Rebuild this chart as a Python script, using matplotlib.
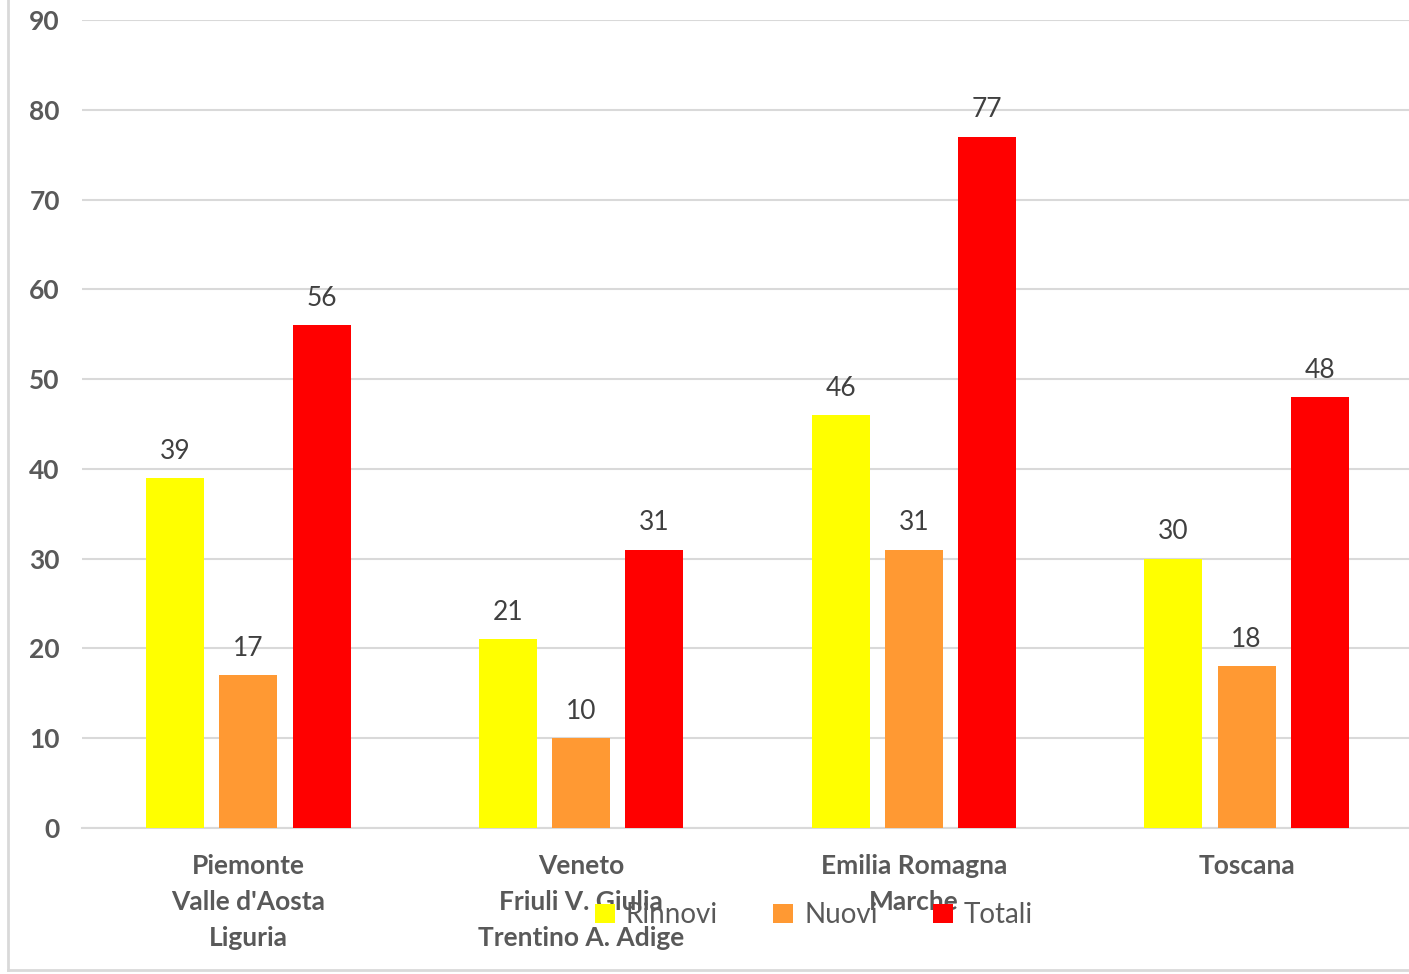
import matplotlib
matplotlib.use("Agg")
import matplotlib.pyplot as plt
import numpy as np
from matplotlib.lines import Line2D
from matplotlib.patches import Patch

categories = ["Piemonte\nValle d'Aosta\nLiguria",
              "Veneto\nFriuli V. Giulia\nTrentino A. Adige",
              "Emilia Romagna\nMarche",
              "Toscana"]
series_names = ["Rinnovi", "Nuovi", "Totali"]
rinnovi = [39, 21, 46, 30]
nuovi = [17, 10, 31, 18]
totali = [56, 31, 77, 48]
yticks = [0, 10, 20, 30, 40, 50, 60, 70, 80, 90]
colors = ["#FFFF00", "#FF9933", "#FF0000"]

plt.rcParams['font.family'] = ['Lato', 'DejaVu Sans']
W, H = 1409, 974
fig = plt.figure(figsize=(W/100, H/100), dpi=100)
ax = fig.add_axes([82/W, 1-828/H, (1413-82)/W, (828-20)/H])

x = np.arange(len(categories))
bw = 0.174
off = 0.22
gray = "#595959"
for i, (vals, c) in enumerate(zip([rinnovi, nuovi, totali], colors)):
    bars = ax.bar(x + (i-1)*off, vals, bw, color=c, zorder=3, label=series_names[i])
    for b, v in zip(bars, vals):
        ax.text(b.get_x()+b.get_width()/2, v + 1.6, str(v), ha='center', va='bottom',
                fontsize=19, color="#404040")

ax.set_xlim(-0.5, len(categories)-0.5)
ax.set_ylim(0, 90)
ax.set_yticks(yticks)
ax.set_yticklabels([str(t) for t in yticks], fontsize=19, fontweight='bold', color=gray)
ax.yaxis.grid(True, color="#D9D9D9", linewidth=1.5, zorder=0)
ax.tick_params(axis='y', length=0, pad=16)
ax.tick_params(axis='x', length=0, pad=19)
ax.set_xticks(x)
ax.set_xticklabels(categories, fontsize=19, fontweight='bold', color=gray, linespacing=1.58)
for s in ['top', 'right', 'left']:
    ax.spines[s].set_visible(False)
ax.spines['bottom'].set_color("#D9D9D9")
ax.spines['bottom'].set_linewidth(1.5)

handles = [Patch(facecolor=c, edgecolor='none') for c in colors]
leg = fig.legend(handles, series_names, loc='center', bbox_to_anchor=(814/W, 1-915/H),
                 ncol=3, frameon=False, fontsize=20, handlelength=0.7, handleheight=0.7,
                 columnspacing=2.0, handletextpad=0.4)
for t in leg.get_texts():
    t.set_color(gray)

# chart frame
fig.add_artist(Line2D([8/W, 8/W], [1-970/H, 1], color="#D9D9D9", lw=2, transform=fig.transFigure))
fig.add_artist(Line2D([8/W, 1], [1-970/H, 1-970/H], color="#D9D9D9", lw=2, transform=fig.transFigure))

fig.savefig("out.png", dpi=100, facecolor='white')
